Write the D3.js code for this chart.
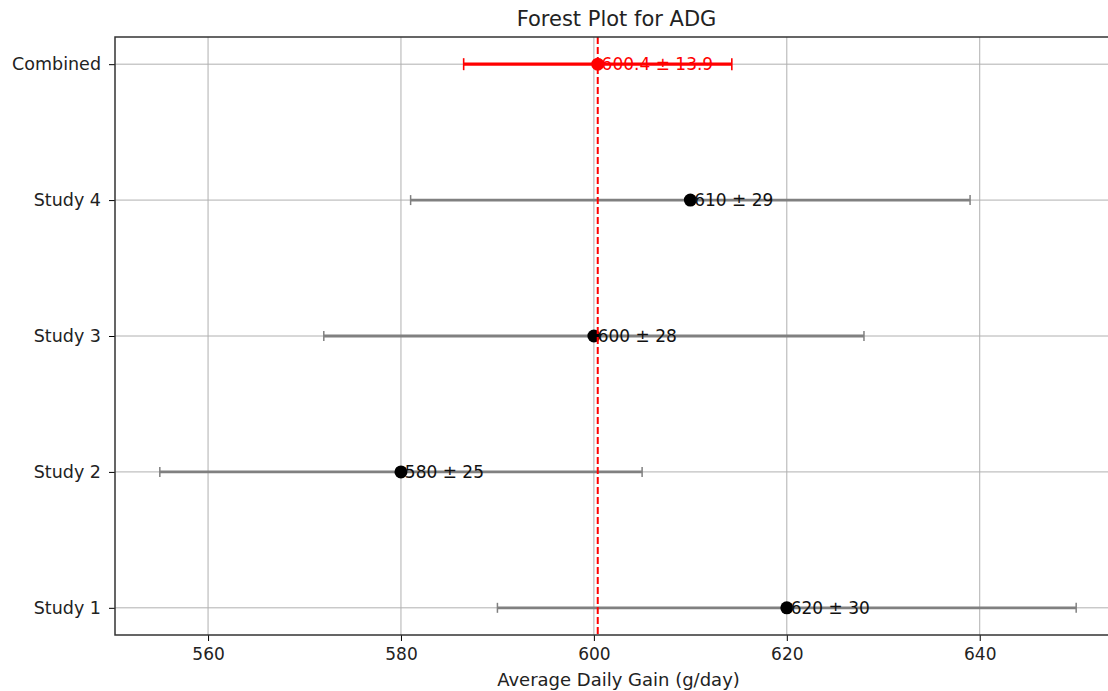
<!DOCTYPE html>
<html>
<head>
<meta charset="utf-8">
<script src="https://cdn.jsdelivr.net/npm/d3@7"></script>
<style>
  body { margin: 0; background: #fff; }
  svg { font-family: "DejaVu Sans", sans-serif; display: block; }
</style>
</head>
<body>
<div id="chart-area"></div>
<script>
// Data
var studies = ["Study 1", "Study 2", "Study 3", "Study 4"];
var means = [620, 580, 600, 610];
var sds = [30, 25, 28, 29];
var combinedLabel = "Combined";
var combinedMean = 600.4;
var combinedSd = 13.9;
var xTicks = [560, 580, 600, 620, 640];

var categories = studies.concat([combinedLabel]);

// Setting margin
var margin = { left:115, right:0, top:37, bottom:56 };
var W = 1108, H = 691;
var plotRight = 1122; // axes run a bit past the picture edge
var width = plotRight - margin.left,
    height = H - margin.top - margin.bottom;

var svg = d3.select("#chart-area")
    .append("svg")
        .attr("width", W)
        .attr("height", H);

var g = svg.append("g")
    .attr("transform", "translate(" + margin.left + ", " + margin.top + ")");

// X Scale (matplotlib style 5% padding)
var xMin = d3.min(means.map(function(m, i){ return m - sds[i]; }));
var xMax = d3.max(means.map(function(m, i){ return m + sds[i]; }));
var pad = (xMax - xMin) * 0.05;
var x = d3.scaleLinear()
    .domain([xMin - pad, xMax + pad])
    .range([-1, width]);

// Y Scale
var y = d3.scaleLinear()
    .domain([-0.2, categories.length - 1 + 0.2])
    .range([height, 0]);

// Grid
g.append("g")
    .attr("class", "grid")
    .selectAll("line.vx")
    .data(xTicks)
    .enter().append("line")
        .attr("x1", function(d){ return x(d); })
        .attr("x2", function(d){ return x(d); })
        .attr("y1", 0)
        .attr("y2", height)
        .attr("stroke", "#b0b0b0")
        .attr("stroke-width", 1);

g.append("g")
    .attr("class", "grid")
    .selectAll("line.hy")
    .data(categories)
    .enter().append("line")
        .attr("x1", 0)
        .attr("x2", width)
        .attr("y1", function(d, i){ return y(i); })
        .attr("y2", function(d, i){ return y(i); })
        .attr("stroke", "#b0b0b0")
        .attr("stroke-width", 1);

// Study rows
var rows = studies.map(function(s, i){ return { name: s, mean: means[i], sd: sds[i], i: i }; });
var capH = 5;

var bars = g.selectAll(".study").data(rows).enter().append("g").attr("class", "study");

bars.append("line")
    .attr("x1", function(d){ return x(d.mean - d.sd); })
    .attr("x2", function(d){ return x(d.mean + d.sd); })
    .attr("y1", function(d){ return y(d.i); })
    .attr("y2", function(d){ return y(d.i); })
    .attr("stroke", "gray")
    .attr("stroke-width", 2.8);

[-1, 1].forEach(function(sgn){
    bars.append("line")
        .attr("x1", function(d){ return x(d.mean + sgn * d.sd); })
        .attr("x2", function(d){ return x(d.mean + sgn * d.sd); })
        .attr("y1", function(d){ return y(d.i) - capH; })
        .attr("y2", function(d){ return y(d.i) + capH; })
        .attr("stroke", "gray")
        .attr("stroke-width", 1.5);
});

bars.append("circle")
    .attr("cx", function(d){ return x(d.mean); })
    .attr("cy", function(d){ return y(d.i); })
    .attr("r", 6.5)
    .attr("fill", "black");

bars.append("text")
    .attr("x", function(d){ return x(d.mean + 0.4); })
    .attr("y", function(d){ return y(d.i); })
    .attr("dy", "0.35em")
    .attr("font-size", "17px")
    .attr("fill", "#111")
    .text(function(d){ return d.mean + " ± " + d.sd; });

// Combined row
var ci = categories.length - 1;
var comb = g.append("g").attr("class", "combined");
comb.append("line")
    .attr("x1", x(combinedMean - combinedSd))
    .attr("x2", x(combinedMean + combinedSd))
    .attr("y1", y(ci))
    .attr("y2", y(ci))
    .attr("stroke", "red")
    .attr("stroke-width", 3.2);
[-1, 1].forEach(function(sgn){
    comb.append("line")
        .attr("x1", x(combinedMean + sgn * combinedSd))
        .attr("x2", x(combinedMean + sgn * combinedSd))
        .attr("y1", y(ci) - capH - 1)
        .attr("y2", y(ci) + capH + 1)
        .attr("stroke", "red")
        .attr("stroke-width", 1.6);
});
comb.append("circle")
    .attr("cx", x(combinedMean))
    .attr("cy", y(ci))
    .attr("r", 6.5)
    .attr("fill", "red");
comb.append("text")
    .attr("x", x(combinedMean + 0.4))
    .attr("y", y(ci))
    .attr("dy", "0.35em")
    .attr("font-size", "17px")
    .attr("fill", "red")
    .text(combinedMean.toFixed(1) + " ± " + combinedSd.toFixed(1));

// Vertical dashed line at combined mean
g.append("line")
    .attr("x1", x(combinedMean))
    .attr("x2", x(combinedMean))
    .attr("y1", 0)
    .attr("y2", height)
    .attr("stroke", "red")
    .attr("stroke-width", 2)
    .attr("stroke-dasharray", "7,3");

// X Axis
var xAxisCall = d3.axisBottom(x).tickValues(xTicks).tickSize(6).tickPadding(7);
var xAxis = g.append("g")
    .attr("class", "x axis")
    .attr("transform", "translate(0," + height + ")")
    .call(xAxisCall);
xAxis.select(".domain").remove();
xAxis.selectAll("text").attr("font-size", "17px").attr("fill", "#222").attr("font-family", "DejaVu Sans");

// Y Axis
var yAxisCall = d3.axisLeft(y)
    .tickValues(d3.range(categories.length))
    .tickFormat(function(d){ return categories[d]; })
    .tickSize(6).tickPadding(8);
var yAxis = g.append("g")
    .attr("class", "y axis")
    .call(yAxisCall);
yAxis.select(".domain").remove();
yAxis.selectAll("text").attr("font-size", "17.5px").attr("fill", "#222").attr("font-family", "DejaVu Sans");

// Frame
g.append("rect")
    .attr("x", 0).attr("y", 0)
    .attr("width", width).attr("height", height)
    .attr("fill", "none")
    .attr("stroke", "#333")
    .attr("stroke-width", 1.5);

// Labels
svg.append("text")
    .attr("x", margin.left + width / 2)
    .attr("y", 686)
    .attr("text-anchor", "middle")
    .attr("font-size", "18px")
    .attr("fill", "#222")
    .text("Average Daily Gain (g/day)");

svg.append("text")
    .attr("x", margin.left + width / 2 - 2)
    .attr("y", 26)
    .attr("text-anchor", "middle")
    .attr("font-size", "21px")
    .attr("fill", "#222")
    .text("Forest Plot for ADG");
</script>
</body>
</html>
